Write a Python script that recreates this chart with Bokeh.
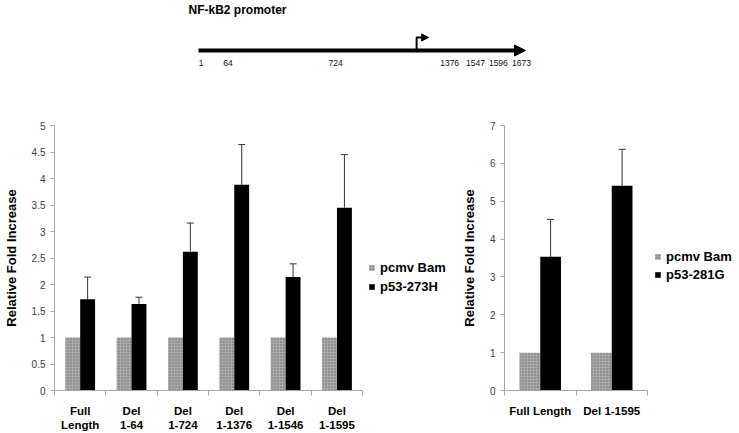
from bokeh.plotting import figure
from bokeh.layouts import column, row
from bokeh.models import (Range1d, FixedTicker, ColumnDataSource, Whisker, TeeHead,
                          Legend, LegendItem, Arrow, NormalHead, Label, NumeralTickFormatter)
from bokeh.core.properties import value
from bokeh.embed import file_html
from bokeh.resources import INLINE

# ---------------- data ----------------
promoter_title = "NF-kB2 promoter"
promoter_sites = ["1", "64", "724", "1376", "1547", "1596", "1673"]
# schematic track positions (0-100) of the site labels, as drawn in the figure
site_track_pos = [0.8, 9.0, 41.9, 76.8, 84.7, 91.7, 98.8]
tss_track_pos = 66.7

left_categories = ["Full\nLength", "Del\n1-64", "Del\n1-724", "Del\n1-1376", "Del\n1-1546", "Del\n1-1595"]
left_pcmv = [1.0, 1.0, 1.0, 1.0, 1.0, 1.0]
left_mut = [1.72, 1.63, 2.62, 3.88, 2.14, 3.45]
left_mut_err = [0.42, 0.13, 0.54, 0.76, 0.25, 1.00]
left_ticks = [0, 0.5, 1, 1.5, 2, 2.5, 3, 3.5, 4, 4.5, 5]
left_series = ["pcmv Bam", "p53-273H"]

right_categories = ["Full Length", "Del 1-1595"]
right_pcmv = [1.0, 1.0]
right_mut = [3.53, 5.41]
right_mut_err = [0.99, 0.96]
right_ticks = [0, 1, 2, 3, 4, 5, 6, 7]
right_series = ["pcmv Bam", "p53-281G"]

FONT = "Liberation Sans"
AXIS_GREY = "#a6a6a6"

# ---------------- promoter diagram ----------------
TOP_W, TOP_H = 739, 88
TRACK_PX0, TRACK_PX1 = 198, 525
LINE_FROM_TOP = 50
px_per_unit = (TRACK_PX1 - TRACK_PX0) / 100.0
top = figure(width=TOP_W, height=TOP_H, output_backend="svg", toolbar_location=None,
             x_range=Range1d(-TRACK_PX0 / px_per_unit, (TOP_W - TRACK_PX0) / px_per_unit),
             y_range=Range1d(-(TOP_H - LINE_FROM_TOP), LINE_FROM_TOP), min_border=0,
             x_axis_location=None, y_axis_location=None, outline_line_color=None)
top.xgrid.visible = False
top.ygrid.visible = False

top.add_layout(Label(x=188, y=TOP_H - 9, x_units="screen", y_units="screen", text=promoter_title,
                     text_font=FONT, text_font_style="bold", text_font_size="12px",
                     text_baseline="middle", text_align="left", text_color="black"))
top.add_layout(Arrow(x_start=0, y_start=0, x_end=100, y_end=0, line_width=4, line_color="black",
                     end=NormalHead(size=11, fill_color="black", line_color="black")))
TSS_RISE = 13
TSS_RUN = 12 / px_per_unit
top.segment(x0=[tss_track_pos], y0=[0], x1=[tss_track_pos], y1=[TSS_RISE], line_width=2, line_color="black")
top.add_layout(Arrow(x_start=tss_track_pos - 0.2, y_start=TSS_RISE, x_end=tss_track_pos + TSS_RUN,
                     y_end=TSS_RISE, line_width=2, line_color="black",
                     end=NormalHead(size=7, fill_color="black", line_color="black")))
top.text(x=site_track_pos, y=[0] * len(site_track_pos), text=promoter_sites, y_offset=12,
         text_font=value(FONT), text_font_size="8.5px", text_align="center", text_baseline="middle",
         text_color="#111111")


# ---------------- bar panels ----------------
def bar_panel(cats, base, mut, err, ticks, ymax, series, width, bl, bb, cat_px, legend_loc, legend_row_h):
    n = len(cats)
    frame_w = width - bl
    x_end = n * frame_w / cat_px  # frame also holds the legend area; axis is bounded to categories
    p = figure(width=width, height=345, output_backend="svg", toolbar_location=None,
               x_range=Range1d(0, x_end), y_range=Range1d(0, ymax),
               min_border_left=bl, min_border_right=0, min_border_top=37, min_border_bottom=bb,
               outline_line_color=None)
    p.xgrid.visible = False
    p.ygrid.visible = False
    centers = [i + 0.5 for i in range(n)]
    bw = 0.29
    src = ColumnDataSource(dict(xg=[c - bw / 2 for c in centers], xb=[c + bw / 2 for c in centers],
                                base=base, mut=mut, upper=[m + e for m, e in zip(mut, err)]))
    g = p.vbar(x="xg", top="base", width=bw, source=src, fill_color="#a9a9a9", line_color=None,
               hatch_pattern="dot", hatch_color="#505050", hatch_scale=3, hatch_alpha=0.7)
    b = p.vbar(x="xb", top="mut", width=bw, source=src, fill_color="black", line_color=None)
    p.add_layout(Whisker(source=src, base="xb", lower="mut", upper="upper", dimension="height",
                         line_color="#333333", line_width=1,
                         upper_head=TeeHead(size=7, line_color="#333333", line_width=1),
                         lower_head=None))

    xa = p.xaxis[0]
    xa.bounds = (0, n)
    xa.ticker = FixedTicker(ticks=centers, minor_ticks=list(range(n + 1)))
    xa.major_label_overrides = {c: lab for c, lab in zip(centers, cats)}
    xa.axis_line_color = AXIS_GREY
    xa.major_tick_line_color = None
    xa.minor_tick_line_color = AXIS_GREY
    xa.minor_tick_in = 0
    xa.minor_tick_out = 5
    xa.major_label_standoff = 8
    xa.major_label_text_font = FONT
    xa.major_label_text_font_style = "bold"
    xa.major_label_text_font_size = "11.5px"
    xa.major_label_text_color = "black"

    ya = p.yaxis[0]
    ya.ticker = FixedTicker(ticks=ticks, minor_ticks=[])
    ya.formatter = NumeralTickFormatter(format="0.[0]")
    ya.axis_line_color = AXIS_GREY
    ya.major_tick_line_color = AXIS_GREY
    ya.major_tick_in = 0
    ya.major_tick_out = 4
    ya.minor_tick_line_color = None
    ya.major_label_standoff = 5
    ya.major_label_text_font = FONT
    ya.major_label_text_font_size = "10px"
    ya.major_label_text_color = "#404040"
    ya.axis_label = "Relative Fold Increase"
    ya.axis_label_text_font = FONT
    ya.axis_label_text_font_style = "bold"
    ya.axis_label_text_font_size = "13px"
    ya.axis_label_text_color = "black"
    ya.axis_label_standoff = 10

    legend = Legend(items=[LegendItem(label=series[0], renderers=[g]),
                           LegendItem(label=series[1], renderers=[b])],
                    location=legend_loc, glyph_width=7, glyph_height=7, label_standoff=5,
                    label_height=legend_row_h, spacing=3, padding=0, margin=0,
                    border_line_color=None, background_fill_alpha=0,
                    label_text_font=FONT, label_text_font_style="bold", label_text_font_size="13px",
                    label_text_color="black")
    p.add_layout(legend, "center")
    return p


left = bar_panel(left_categories, left_pcmv, left_mut, left_mut_err, left_ticks, 5, left_series,
                 455, 49, 38, 312, (314, 96), 16)
right = bar_panel(right_categories, right_pcmv, right_mut, right_mut_err, right_ticks, 7, right_series,
                  284, 49, 40, 143, (150, 108), 15)

layout = column(top, row(left, right))
open("out.html", "w").write(file_html(layout, INLINE))
